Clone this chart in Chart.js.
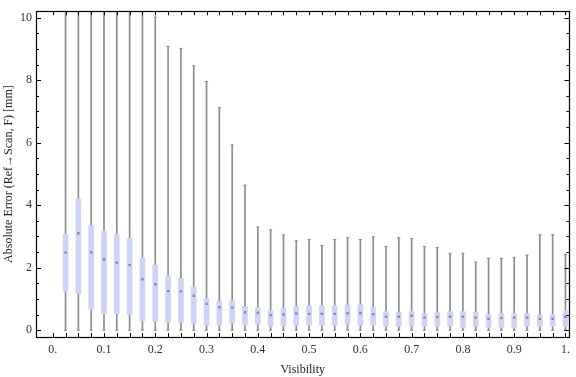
<!DOCTYPE html>
<html><head><meta charset="utf-8">
<script src="https://cdn.jsdelivr.net/npm/chart.js@4/dist/chart.umd.min.js"></script>
<style>html,body{margin:0;padding:0;background:#fff}</style>
</head><body>
<canvas id="c" width="576" height="377"></canvas>
<script>
// ---- data ----
const visibility = [0.025,0.05,0.075,0.1,0.125,0.15,0.175,0.2,0.225,0.25,0.275,0.3,0.325,0.35,0.375,0.4,0.425,0.45,0.475,0.5,
  0.525,0.55,0.575,0.6,0.625,0.65,0.675,0.7,0.725,0.75,0.775,0.8,0.825,0.85,0.875,0.9,0.925,0.95,0.975,1.0];
const whiskerLow = [0,0,0,0,0,0,0,0,0,0,0,0,0,0,0,0,0,0,0,0,0,0,0,0,0,0,0,0,0,0,0,0,0,0,0,0,0,0,0,0];
const q1 = [1.25,1.17,0.67,0.53,0.53,0.50,0.30,0.28,0.25,0.25,0.22,0.16,0.16,0.22,0.16,0.19,0.125,0.125,0.16,0.16,
  0.16,0.16,0.19,0.16,0.16,0.125,0.125,0.125,0.125,0.125,0.125,0.09,0.125,0.09,0.09,0.09,0.125,0.125,0.125,0.125];
const median = [2.48,3.10,2.49,2.26,2.16,2.08,1.63,1.47,1.25,1.24,1.10,0.84,0.73,0.72,0.57,0.56,0.48,0.50,0.53,0.52,
  0.52,0.52,0.54,0.55,0.51,0.43,0.43,0.46,0.40,0.42,0.43,0.43,0.40,0.36,0.39,0.40,0.40,0.36,0.36,0.43];
const q3 = [3.07,4.20,3.35,3.16,3.06,2.94,2.31,2.09,1.75,1.66,1.375,1.00,0.91,0.94,0.75,0.72,0.625,0.69,0.75,0.78,
  0.78,0.78,0.81,0.81,0.72,0.59,0.56,0.59,0.53,0.56,0.59,0.59,0.56,0.50,0.53,0.53,0.53,0.47,0.50,0.625];
const whiskerHigh = [14,14,14,14,14,14,14,10.02,9.08,9.02,8.46,7.96,7.12,5.93,4.64,3.30,3.21,3.05,2.86,2.90,
  2.71,2.90,2.96,2.90,2.99,2.68,2.96,2.93,2.68,2.65,2.46,2.46,2.18,2.30,2.30,2.33,2.40,3.05,3.05,2.43];
const xTickValues = [0,0.1,0.2,0.3,0.4,0.5,0.6,0.7,0.8,0.9,1.0];
const xTickLabels = ["0.","0.1","0.2","0.3","0.4","0.5","0.6","0.7","0.8","0.9","1."];
const yTickValues = [0,2,4,6,8,10];
const yTickLabels = ["0","2","4","6","8","10"];
const xTitle = "Visibility";
const yTitle = "Absolute Error (Ref\u2192Scan, F) [mm]";

const SERIF = "'Liberation Serif','Times New Roman',serif";
const WHISKER = '#8c8c8c';

const xMinor = []; for (let k = 0; k <= 40; k++) xMinor.push(k * 0.025);
const yMinor = []; for (let k = 0; k <= 20; k++) yMinor.push(k * 0.5);

const framePlugin = {
  id: 'frame',
  afterDraw(chart) {
    const {ctx, chartArea: a, scales: {x, y}} = chart;
    ctx.save();
    ctx.strokeStyle = '#000';
    ctx.lineWidth = 1;
    ctx.beginPath();
    xMinor.forEach(v => {
      const px = Math.round(x.getPixelForValue(v)) + 0.5;
      ctx.moveTo(px, a.bottom); ctx.lineTo(px, a.bottom - 4);
      ctx.moveTo(px, a.top); ctx.lineTo(px, a.top + 4);
    });
    yMinor.forEach(v => {
      const py = Math.round(y.getPixelForValue(v)) + 0.5;
      const len = (Math.abs(v % 2) < 1e-9) ? 5 : 3;
      ctx.moveTo(a.left, py); ctx.lineTo(a.left + len, py);
      ctx.moveTo(a.right, py); ctx.lineTo(a.right - len, py);
    });
    ctx.stroke();
    ctx.lineWidth = 1.2;
    ctx.strokeRect(Math.round(a.left) + 0.5, Math.round(a.top) + 0.5,
      Math.round(a.right) - Math.round(a.left), Math.round(a.bottom) - Math.round(a.top));
    ctx.restore();
  }
};

new Chart(document.getElementById('c'), {
  type: 'bar',
  data: {
    datasets: [
      {
        type: 'scatter', label: 'median', order: 0, clip: 0,
        data: visibility.map((v, i) => ({x: v, y: median[i]})),
        pointStyle: 'rect', pointRadius: 1.7, backgroundColor: 'rgba(110,110,130,0.75)', borderWidth: 0
      },
      {
        type: 'bar', label: 'box', order: 1, clip: 0, grouped: false,
        data: visibility.map((v, i) => ({x: v, y: [q1[i], q3[i]]})),
        backgroundColor: '#cdd4f6', borderWidth: 0, barThickness: 5
      },
      {
        type: 'scatter', label: 'caps', order: 2, clip: 0,
        data: visibility.map((v, i) => ({x: v, y: whiskerHigh[i]}))
          .concat(visibility.map((v, i) => ({x: v, y: whiskerLow[i]}))),
        pointStyle: 'line', pointRadius: 1.6, borderColor: WHISKER, borderWidth: 1
      },
      {
        type: 'bar', label: 'whisker', order: 3, clip: 0, grouped: false,
        data: visibility.map((v, i) => ({x: v, y: [whiskerLow[i], whiskerHigh[i]]})),
        backgroundColor: WHISKER, borderWidth: 0, barThickness: 1
      }
    ]
  },
  options: {
    responsive: false, animation: false, devicePixelRatio: 1,
    layout: {padding: {top: 4, right: 1, left: 0, bottom: 0}},
    plugins: {legend: {display: false}, tooltip: {enabled: false}},
    scales: {
      x: {
        type: 'linear', min: -0.0326, max: 1.0077, offset: false,
        grid: {display: false, drawTicks: false}, border: {display: false},
        afterBuildTicks: s => { s.ticks = xTickValues.map(v => ({value: v})); },
        afterFit: s => { s.height = 40; },
        ticks: {
          autoSkip: false, maxRotation: 0, padding: 6, color: '#333',
          font: {family: SERIF, size: 12},
          callback: (val, idx) => xTickLabels[idx]
        },
        title: {display: true, text: xTitle, color: '#222', font: {family: SERIF, size: 12}, padding: {top: 4, bottom: 0}}
      },
      y: {
        type: 'linear', min: -0.22, max: 10.21,
        grid: {display: false, drawTicks: false}, border: {display: false},
        afterBuildTicks: s => { s.ticks = yTickValues.map(v => ({value: v})); },
        afterFit: s => { s.width = 36; },
        ticks: {
          autoSkip: false, padding: 4, color: '#333',
          font: {family: SERIF, size: 12},
          callback: (val, idx) => yTickLabels[idx]
        },
        title: {display: true, text: yTitle, color: '#222', font: {family: SERIF, size: 12}, padding: {top: 2, bottom: 0}}
      }
    }
  },
  plugins: [framePlugin]
});
</script>
</body></html>
